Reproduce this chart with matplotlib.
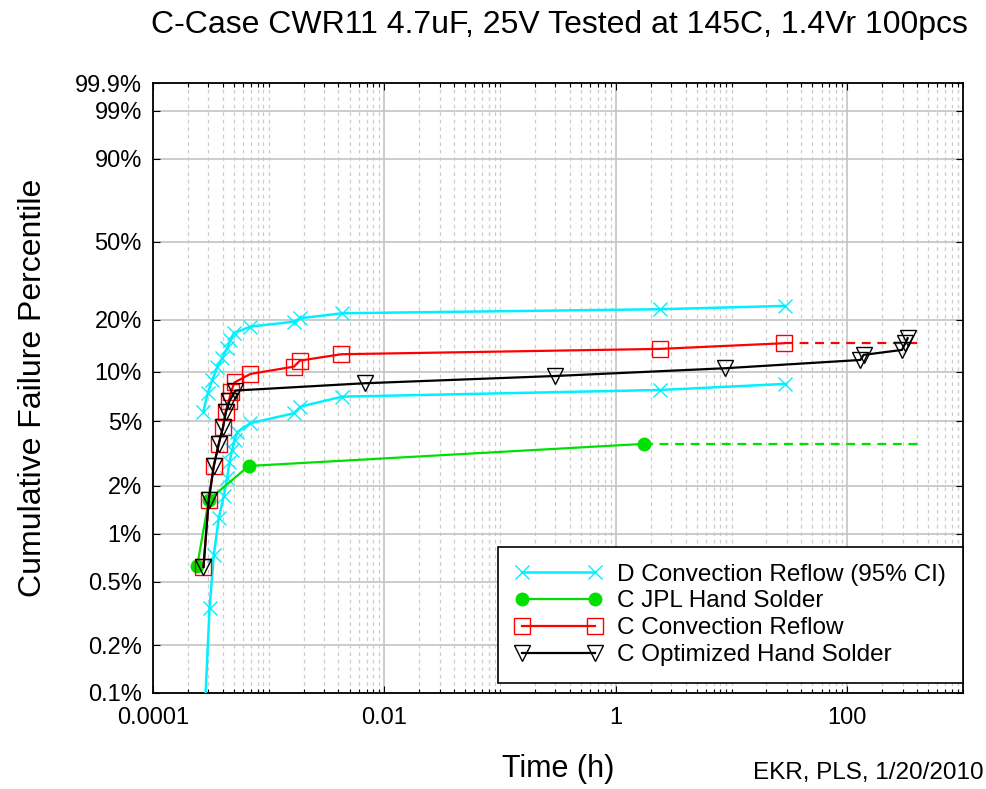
import numpy as np
import matplotlib
matplotlib.use("Agg")
import matplotlib.pyplot as plt
from matplotlib.ticker import FixedLocator, FixedFormatter, LogLocator, NullLocator

plt.rcParams['font.family'] = ['Liberation Sans', 'DejaVu Sans']

# D Convection Reflow, upper / lower 95% bounds (time in h, cumulative %)
d_hi_t = [2.72e-4, 2.97e-4, 3.25e-4, 3.59e-4, 3.96e-4, 4.38e-4, 4.67e-4, 4.99e-4,
          6.95e-4, 1.65e-3, 1.88e-3, 4.31e-3, 2.42, 28.7]
d_hi_f = [5.73, 7.41, 8.92, 10.62, 12.01, 13.75, 15.36, 16.79,
          18.31, 19.54, 20.41, 21.78, 22.92, 23.90]
d_lo_t = [2.57e-4, 3.08e-4, 3.35e-4, 3.70e-4, 4.09e-4, 4.38e-4, 4.58e-4, 4.83e-4,
          5.06e-4, 5.37e-4, 6.95e-4, 1.65e-3, 1.88e-3, 4.31e-3, 2.42, 28.7]
d_lo_f = [0.020, 0.341, 0.736, 1.251, 1.724, 2.233, 2.807, 3.331,
          3.84, 4.30, 4.87, 5.60, 6.15, 7.07, 7.76, 8.44]

# C JPL Hand Solder
jpl_t = [2.41e-4, 3.03e-4, 6.72e-4, 1.74]
jpl_f = [0.63, 1.63, 2.65, 3.63]
jpl_end = 455

# C Convection Reflow
cr_t = [2.73e-4, 3.03e-4, 3.35e-4, 3.70e-4, 4.03e-4, 4.23e-4, 4.52e-4, 4.72e-4,
        5.06e-4, 6.95e-4, 1.65e-3, 1.86e-3, 4.25e-3, 2.42, 28.2]
cr_f = [0.62, 1.63, 2.65, 3.63, 4.62, 5.70, 6.66, 7.55,
        8.62, 9.69, 10.71, 11.63, 12.68, 13.63, 14.70]
cr_end = 415

# C Optimized Hand Solder
oh_t = [2.73e-4, 3.03e-4, 3.35e-4, 3.70e-4, 4.03e-4, 4.27e-4, 4.58e-4, 5.16e-4,
        6.76e-3, 0.300, 8.83, 129.5, 138.3, 297, 317, 332]
oh_f = [0.62, 1.63, 2.65, 3.63, 4.62, 5.70, 6.66, 7.70,
        8.52, 9.42, 10.48, 11.73, 12.57, 13.44, 14.70, 15.72]

y_ticks = [0.1, 0.2, 0.5, 1, 2, 5, 10, 20, 50, 90, 99, 99.9]
y_labels = ['0.1%', '0.2%', '0.5%', '1%', '2%', '5%', '10%', '20%', '50%', '90%', '99%', '99.9%']
x_ticks = [1e-4, 1e-2, 1, 100]
x_labels = ['0.0001', '0.01', '1', '100']


def weibull_fwd(p):
    p = np.clip(np.asarray(p, dtype=float), 1e-9, 100 - 1e-9)
    return np.log(-np.log(1 - p / 100.0))


def weibull_inv(w):
    return 100.0 * (1 - np.exp(-np.exp(np.asarray(w, dtype=float))))


cyan = '#00F0FF'
green = '#00E000'

fig = plt.figure(figsize=(9.86, 7.89), dpi=100)
ax = fig.add_axes([0.1552, 0.1217, 0.8215, 0.7731])

ax.set_xscale('log')
ax.set_yscale('function', functions=(weibull_fwd, weibull_inv))

ax.plot(d_hi_t, d_hi_f, color=cyan, lw=1.8, marker='x', ms=10, mew=1.0,
        label='D Convection Reflow (95% CI)', zorder=3)
ax.plot(d_lo_t, d_lo_f, color=cyan, lw=1.8, marker='x', ms=10, mew=1.0, zorder=3)

ax.plot(jpl_t, jpl_f, color=green, lw=1.6, marker='o', ms=9,
        label='C JPL Hand Solder', zorder=4)
ax.plot([jpl_t[-1], jpl_end], [jpl_f[-1], jpl_f[-1]], color=green, lw=1.6,
        ls=(0, (4, 3)), zorder=4)

ax.plot(cr_t, cr_f, color='red', lw=1.6, marker='s', ms=11, mfc='none', mew=1.0,
        label='C Convection Reflow', zorder=5)
ax.plot([cr_t[-1], cr_end], [cr_f[-1], cr_f[-1]], color='red', lw=1.6,
        ls=(0, (4, 3)), zorder=5)

ax.plot(oh_t, oh_f, color='black', lw=1.6, marker='v', ms=11, mfc='none', mew=1.0,
        label='C Optimized Hand Solder', zorder=6)

ax.set_xlim(1e-4, 1e3)
ax.set_ylim(0.1, 99.9)

ax.xaxis.set_major_locator(FixedLocator(x_ticks))
ax.xaxis.set_major_formatter(FixedFormatter(x_labels))
ax.xaxis.set_minor_locator(LogLocator(base=10, subs=np.arange(1, 10), numticks=100))
ax.xaxis.set_minor_formatter(FixedFormatter([]))
ax.yaxis.set_major_locator(FixedLocator(y_ticks))
ax.yaxis.set_major_formatter(FixedFormatter(y_labels))
ax.yaxis.set_minor_locator(NullLocator())

ax.grid(which='major', color='#c4c4c4', lw=1.2, ls='-', zorder=0)
ax.grid(which='minor', axis='x', color='#cccccc', lw=0.9, ls=(0, (3, 3)), zorder=0)
ax.set_axisbelow(True)

ax.tick_params(which='both', direction='in', top=True, right=True, labelsize=17,
               width=0.8, pad=8)
ax.tick_params(which='major', length=5)
ax.tick_params(which='minor', length=3)
ax.tick_params(axis='x', pad=10)
for s in ax.spines.values():
    s.set_linewidth(1.3)

ax.set_ylabel('Cumulative Failure Percentile', fontsize=23)
ax.yaxis.set_label_coords(-0.13, 0.5)
ax.set_xlabel('Time (h)', fontsize=22)
ax.xaxis.set_label_coords(0.5, -0.1)

leg = ax.legend(loc='lower right', bbox_to_anchor=(1.0, 0.016), borderaxespad=0,
                fontsize=17.5, numpoints=2, handlelength=3.6, handletextpad=0.6,
                labelspacing=0.2, borderpad=0.7, fancybox=False, framealpha=1,
                edgecolor='black')
leg.get_frame().set_linewidth(1.2)

fig.text(0.567, 0.968, 'C-Case CWR11 4.7uF, 25V Tested at 145C, 1.4Vr 100pcs',
         fontsize=23, ha='center', va='center')
fig.text(0.998, 0.02, 'EKR, PLS, 1/20/2010', fontsize=17.5, ha='right', va='center')

fig.savefig('out.png', dpi=100)
